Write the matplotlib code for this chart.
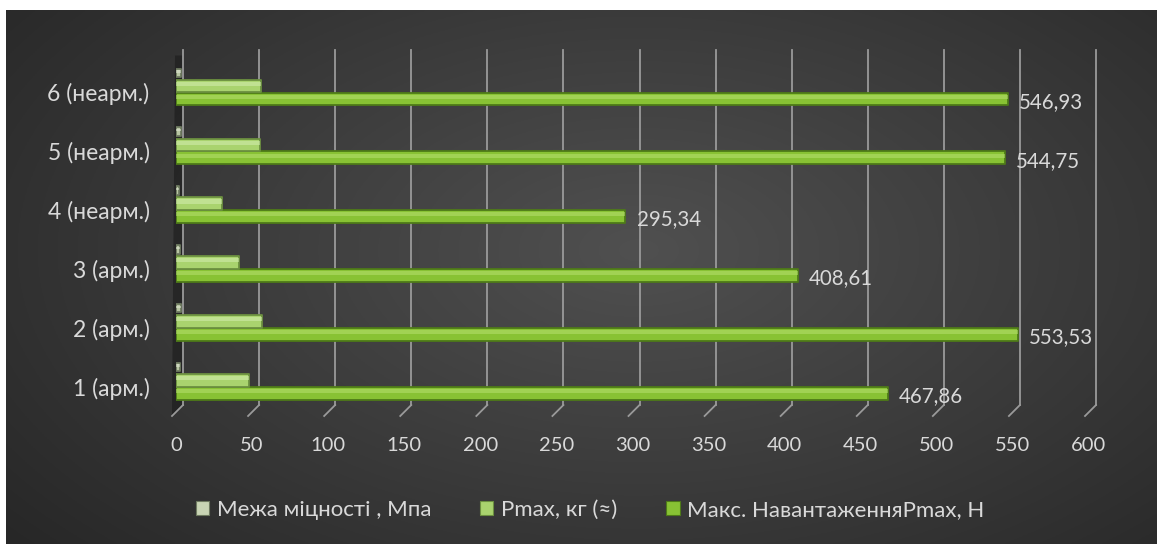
import numpy as np
import matplotlib
matplotlib.use("Agg")
import matplotlib.pyplot as plt
import matplotlib.transforms as mtransforms
from matplotlib.patches import Polygon, Rectangle

plt.rcParams['font.family'] = ['Lato', 'Noto Sans', 'DejaVu Sans']

# ---- data ----
categories = ["1 (арм.)", "2 (арм.)", "3 (арм.)", "4 (неарм.)", "5 (неарм.)", "6 (неарм.)"]
series_names = ["Межа міцності , Мпа", "Pmax, кг (≈)", "Макс. НавантаженняPmax, Н"]
strength_mpa = [2.9, 3.4, 2.5, 1.8, 3.3, 3.3]
pmax_kg = [47.69, 56.42, 41.65, 30.11, 55.53, 55.75]
pmax_n = [467.86, 553.53, 408.61, 295.34, 544.75, 546.93]
x_ticks = [0, 50, 100, 150, 200, 250, 300, 350, 400, 450, 500, 550, 600]

W, H = 1157, 544
fig = plt.figure(figsize=(W / 100, H / 100), dpi=100)
fig.patch.set_facecolor('white')

# ---- background radial gradient ----
bg = fig.add_axes([6 / W, 0, 1 - 6 / W, (H - 10) / H])
yy, xx = np.mgrid[0:1:300j, 0:1:600j]
r = np.sqrt(((xx - 0.55) / 0.75) ** 2 + ((yy - 0.45) / 0.9) ** 2)
r = np.clip(r, 0, 1)
c0 = np.array([0x50, 0x50, 0x50]) / 255
c1 = np.array([0x25, 0x25, 0x25]) / 255
img = c0[None, None, :] * (1 - r[..., None]) + c1[None, None, :] * r[..., None]
bg.imshow(img, aspect='auto', extent=[0, 1, 0, 1], origin='upper')
bg.set_axis_off()
bg.set_zorder(-10)

# ---- main axes ----
left_px, right_px, top_px, bottom_px = 176, 1089, 50, 416
ax = fig.add_axes([left_px / W, (H - bottom_px) / H, (right_px - left_px) / W, (bottom_px - top_px) / H])
ax.patch.set_alpha(0)
ax.set_xlim(0, 600)
ax.set_ylim(0.508, 6.72)
for s in ax.spines.values():
    s.set_visible(False)

k = 600 / (right_px - left_px)  # data units per pixel
trans = mtransforms.blended_transform_factory(ax.transData, ax.transAxes)

# left wall
wall = Polygon([(-1 * k, 0.985), (7 * k, 0.985), (7 * k, 0.03), (-4 * k, 0.0), (-4 * k, 0.02)],
               closed=True, transform=trans, facecolor='#1a1a1a', alpha=0.6,
               edgecolor='none', zorder=1, clip_on=False)
ax.add_patch(wall)

# gridlines with 3D foot
for t in x_ticks:
    ax.plot([t + 7 * k, t + 7 * k], [0.03, 1.0], transform=trans, color='#9a9a9a',
            lw=1.3, zorder=2, clip_on=False)
    ax.plot([t + 7 * k, t - 4 * k], [0.03, 0.0], transform=trans, color='#9a9a9a',
            lw=1.3, zorder=2, clip_on=False)

ypos = np.arange(1, len(categories) + 1)
bh = 0.215


def draw_bars(vals, off, height, base, edge, hi, z):
    ax.barh(ypos + off, vals, height=height, color=base, edgecolor=edge,
            linewidth=1.3, zorder=z, joinstyle='round')
    ax.barh(ypos + off + height * 0.18, vals, height=height * 0.32, color=hi,
            edgecolor='none', alpha=0.55, zorder=z + 0.1)


draw_bars(pmax_n, -0.11, bh, '#88c234', '#4e7a18', '#b6e070', 5)
draw_bars(pmax_kg, 0.11, bh, '#a9d36e', '#6c9040', '#d4eeb0', 5)
draw_bars(strength_mpa, 0.335, 0.14, '#b7c4a2', '#6e7a60', '#e0e8d4', 5)

# data labels
for y, v in zip(ypos, pmax_n):
    ax.annotate(f"{v:.2f}".replace('.', ','), xy=(v, y - 0.11), xytext=(8, -2),
                textcoords='offset points', ha='left', va='center',
                color='#d9d9d9', fontsize=14.8, zorder=6)

ax.set_xticks(x_ticks)
ax.set_xticklabels([str(t) for t in x_ticks])
ax.set_yticks(ypos)
ax.set_yticklabels(categories)
ax.tick_params(axis='x', length=0, pad=15, labelsize=14.5, labelcolor='#d9d9d9')
ax.tick_params(axis='y', length=0, pad=19, labelsize=16.5, labelcolor='#d9d9d9')

# legend
handles = [Rectangle((0, 0), 1, 1, facecolor=c, edgecolor=e, lw=0.8)
           for c, e in [('#c8d4b4', '#6e7a60'), ('#a9d36e', '#6c9040'), ('#88c234', '#4e7a18')]]
leg = fig.legend(handles, series_names, loc='center', bbox_to_anchor=(0.51, 1 - 510 / H),
                 ncol=3, frameon=False, fontsize=16, labelcolor='#d9d9d9',
                 handlelength=0.6, handleheight=0.6, handletextpad=0.35, columnspacing=2.2)

fig.savefig('out.png', dpi=100, facecolor=fig.get_facecolor())
